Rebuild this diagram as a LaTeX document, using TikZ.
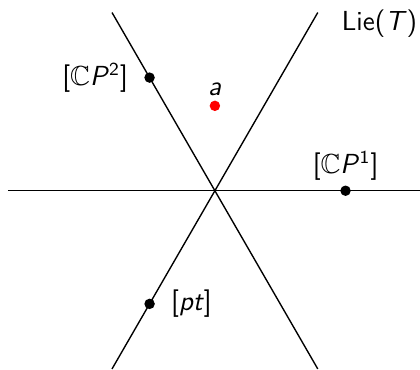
\documentclass[tikz,border=0pt]{standalone}
\usepackage{amssymb}
\usetikzlibrary{positioning}

\begin{document}
\begin{tikzpicture}[
    font=\sffamily\large,
    axis/.style={line width=0.6pt},
    dot/.style={circle, fill=black, inner sep=0pt, minimum size=0.16cm},
    reddot/.style={dot, fill=red}
  ]
    \useasboundingbox (-3.29,-2.73) rectangle (3.14,2.92);

    % Lines through the origin
    \coordinate (o) at (0,0);
    \coordinate (east) at (3.14,0);
    \coordinate (west) at (-3.17,0);
    \coordinate (ne) at (60:3.15);
    \coordinate (sw) at (240:3.15);
    \coordinate (nw) at (120:3.15);
    \coordinate (se) at (300:3.15);
    \draw[axis] (west) -- (o) -- (east);
    \draw[axis] (nw) -- (o) -- (se);
    \draw[axis] (sw) -- (o) -- (ne);
    \node[anchor=base west] (lie) at (1.82,2.46) {Lie(\textit{T})};

    % Marked points
    \node[dot] (cp2) at (120:2) {};
    \node[dot] (cp1) at (0:2) {};
    \node[dot] (pt) at (240:2) {};
    \node[reddot] (a) at (0,1.3) {};

    \node[left=0.12cm of cp2] (cp2label) {[$\mathbb{C}$\textit{P}\textsuperscript{2}]};
    \node[above=-0.05cm of cp1] (cp1label) {[$\mathbb{C}$\textit{P}\textsuperscript{1}]};
    \node[right=0.12cm of pt] (ptlabel) {[\textit{pt}]};
    \node[above=-0.05cm of a] (alabel) {\textit{a}};
  \end{tikzpicture}
\end{document}
